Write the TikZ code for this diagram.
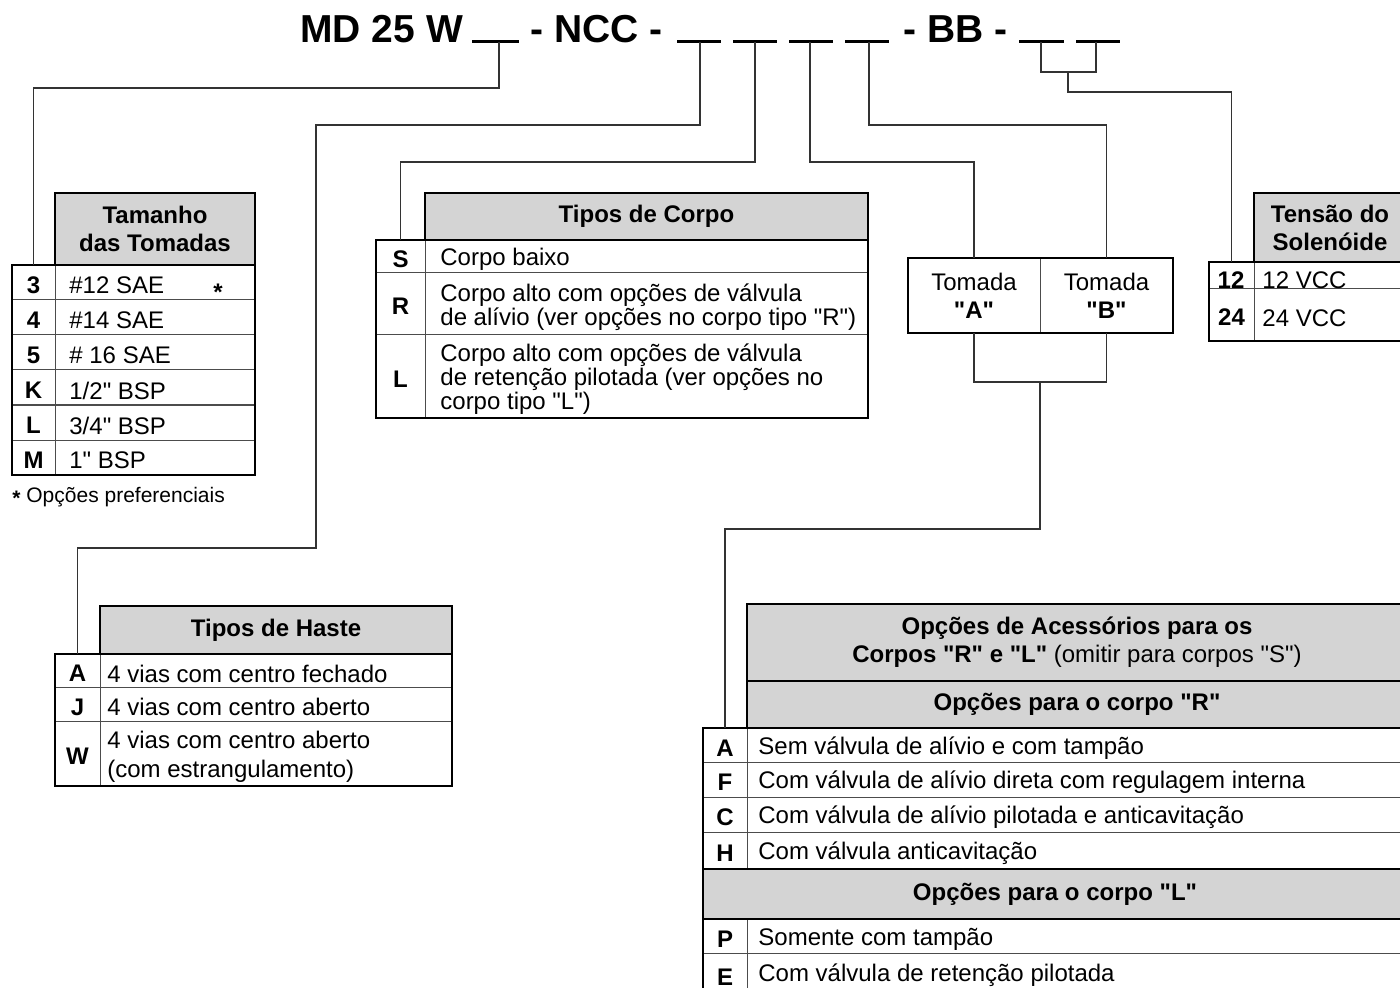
\documentclass[tikz,border=0pt]{standalone}
\usepackage{fontspec}
\setmainfont{Liberation Sans}[Ligatures=TeXOff]
\usetikzlibrary{positioning}

\newcommand{\cellfont}{\fontsize{12}{12}\selectfont}
\newcommand{\headfont}{\fontsize{12}{14}\selectfont\bfseries}

\begin{document}
\begin{tikzpicture}[
  x=0.5pt, y=-0.5pt,
  sz/.style 2 args={minimum width=#1pt,minimum height=#2pt},
  cell/.style={draw=black!70,line width=0.5pt,anchor=north west,
    inner sep=0pt,outer sep=0pt,font=\cellfont\bfseries},
  key/.style={cell,text height=11pt,text depth=0pt},
  hdr/.style={cell,fill=black!17,font=\headfont,align=center},
  txt/.style={inner sep=0pt,font=\cellfont,align=left,yshift=-1.5pt},
  frame/.style={draw=black,line width=1.3pt},
  conn/.style={draw=black!80,line width=0.7pt},
  blank/.style={draw=black,line width=1.5pt},
  title/.style={anchor=base west,inner sep=0pt,
    font=\fontsize{19.5}{22}\selectfont\bfseries}
]
  \useasboundingbox (0,0) rectangle (1400,988);
  \clip (0,0) rectangle (1400,988);

  % model code
  \node[title] (md) at (300,43) {MD 25 W};
  \node[title] (ncc) at (530,43) {- NCC -};
  \node[title] (bb) at (903,43) {- BB -};
  \draw[blank] (472,42) -- (519,42);
  \draw[blank] (677,42) -- (721,42);
  \draw[blank] (733,42) -- (777,42);
  \draw[blank] (789,42) -- (833,42);
  \draw[blank] (845,42) -- (889,42);
  \draw[blank] (1019,42) -- (1064,42);
  \draw[blank] (1076,42) -- (1120,42);
  \coordinate (u1) at (499,42);
  \coordinate (u2) at (700,42);
  \coordinate (u3) at (755,42);
  \coordinate (u4) at (810,42);
  \coordinate (u5) at (869,42);
  \coordinate (u6) at (1041,42);
  \coordinate (u7) at (1096,42);
  \coordinate (vbr) at (1068,72);
  \coordinate (tjoin) at (1040,382);

  % Tamanho das Tomadas
  \node[hdr,sz={100}{36}] (tam) at (55,193) {Tamanho\\das Tomadas};
  \node[key,sz={21.5}{17.5}] (tk3) at (12,265) {3};
  \node[cell,sz={100}{17.5}] (td3) at (55,265) {};
  \node[key,sz={21.5}{17.5}] (tk4) at (12,300) {4};
  \node[cell,sz={100}{17.5}] (td4) at (55,300) {};
  \node[key,sz={21.5}{17.5}] (tk5) at (12,335) {5};
  \node[cell,sz={100}{17.5}] (td5) at (55,335) {};
  \node[key,sz={21.5}{17.5}] (tkK) at (12,370) {K};
  \node[cell,sz={100}{17.5}] (tdK) at (55,370) {};
  \node[key,sz={21.5}{17.5}] (tkL) at (12,405) {L};
  \node[cell,sz={100}{17.5}] (tdL) at (55,405) {};
  \node[key,sz={21.5}{17.5}] (tkM) at (12,440) {M};
  \node[cell,sz={100}{17.5}] (tdM) at (55,440) {};
  \node[txt,right=7pt of td3.west] (tx3) {\#12 SAE};
  \node[txt,right=7pt of td4.west] (tx4) {\#14 SAE};
  \node[txt,right=7pt of td5.west] (tx5) {\# 16 SAE};
  \node[txt,right=7pt of tdK.west] (txK) {1/2" BSP};
  \node[txt,right=7pt of tdL.west] (txL) {3/4" BSP};
  \node[txt,right=7pt of tdM.west] (txM) {1" BSP};
  \node[txt,font=\cellfont\bfseries] (pstar) at (218,289) {*};
  \draw[frame] (tam.north west) rectangle (tam.south east);
  \draw[frame] (tk3.north west) rectangle (tdM.south east);
  \node[txt,anchor=west,font=\fontsize{10.5}{12}\selectfont] (pref) at (12,494)
    {\raisebox{-0.3ex}{\textbf{*}} Opções preferenciais};

  % Tipos de Corpo
  \node[hdr,sz={221.5}{23.5}] (cor) at (425,193) {Tipos de Corpo};
  \node[key,sz={24.5}{16.5}] (ckS) at (376,240) {S};
  \node[cell,sz={221.5}{16.5}] (cdS) at (425,240) {};
  \node[key,sz={24.5}{31}] (ckR) at (376,273) {R};
  \node[cell,sz={221.5}{31}] (cdR) at (425,273) {};
  \node[key,sz={24.5}{41.5}] (ckL) at (376,335) {L};
  \node[cell,sz={221.5}{41.5}] (cdL) at (425,335) {};
  \node[txt,right=7.5pt of cdS.west] (cxS) {Corpo baixo};
  \node[txt,right=7.5pt of cdR.west] (cxR)
    {Corpo alto com opções de válvula\\de alívio (ver opções no corpo tipo "R")};
  \node[txt,right=7.5pt of cdL.west] (cxL)
    {Corpo alto com opções de válvula\\de retenção pilotada (ver opções no\\corpo tipo "L")};
  \draw[frame] (cor.north west) rectangle (cor.south east);
  \draw[frame] (ckS.north west) rectangle (cdL.south east);

  % Tipos de Haste
  \node[hdr,sz={176}{24}] (has) at (100,606) {Tipos de Haste};
  \node[key,sz={22.5}{16.5}] (hkA) at (55,654) {A};
  \node[cell,sz={176}{16.5}] (hdA) at (100,654) {};
  \node[key,sz={22.5}{17}] (hkJ) at (55,687) {J};
  \node[cell,sz={176}{17}] (hdJ) at (100,687) {};
  \node[key,sz={22.5}{32.5}] (hkW) at (55,721) {W};
  \node[cell,sz={176}{32.5}] (hdW) at (100,721) {};
  \node[txt,right=3.5pt of hdA.west] (hxA) {4 vias com centro fechado};
  \node[txt,right=3.5pt of hdJ.west] (hxJ) {4 vias com centro aberto};
  \node[txt,right=3.5pt of hdW.west,font=\fontsize{12}{14.5}\selectfont] (hxW)
    {4 vias com centro aberto\\(com estrangulamento)};
  \draw[frame] (has.north west) rectangle (has.south east);
  \draw[frame] (hkA.north west) rectangle (hdW.south east);

  % Tomadas A e B
  \node[cell,sz={66}{37.5},font=\fontsize{12}{14}\selectfont,align=center] (tomA)
    at (908,258) {Tomada\\\textbf{"A"}};
  \node[cell,sz={66.5}{37.5},font=\fontsize{12}{14}\selectfont,align=center] (tomB)
    at (1040,258) {Tomada\\\textbf{"B"}};
  \draw[frame] (tomA.north west) rectangle (tomB.south east);

  % Tensao do Solenoide
  \node[hdr,sz={76}{34.5}] (ten) at (1254,193) {Tensão do\\Solenóide};
  \node[cell,sz={22.5}{13.5}] (vk12) at (1209,262) {};
  \node[cell,sz={76}{13.5}] (vd12) at (1254,262) {};
  \node[key,sz={22.5}{26}] (vk24) at (1209,289) {24};
  \node[cell,sz={76}{26}] (vd24) at (1254,289) {};
  \node[txt,font=\cellfont\bfseries] (vx12k) at (1231,277) {12};
  \node[txt,anchor=west] (vx12) at (1262,277) {12 VCC};
  \node[txt,right=4pt of vd24.west] (vx24) {24 VCC};
  \draw[frame] (ten.north west) rectangle (ten.south east);
  \draw[frame] (vk12.north west) rectangle (vd24.south east);

  % Opcoes de Acessorios
  \node[hdr,sz={330}{38.5}] (acc) at (747,604)
    {Opções de Acessórios para os\\Corpos "R" e "L" \textmd{(omitir para corpos "S")}};
  \node[hdr,sz={330}{23.5}] (accR) at (747,681) {Opções para o corpo "R"};
  \node[key,sz={22}{17}] (akA) at (703,728) {A};
  \node[cell,sz={330}{17}] (adA) at (747,728) {};
  \node[key,sz={22}{17.5}] (akF) at (703,762) {F};
  \node[cell,sz={330}{17.5}] (adF) at (747,762) {};
  \node[key,sz={22}{17.5}] (akC) at (703,797) {C};
  \node[cell,sz={330}{17.5}] (adC) at (747,797) {};
  \node[key,sz={22}{18.5}] (akH) at (703,832) {H};
  \node[cell,sz={330}{18.5}] (adH) at (747,832) {};
  \node[hdr,sz={352}{25}] (accL) at (703,869) {Opções para o corpo "L"};
  \node[key,sz={22}{17}] (akP) at (703,919) {P};
  \node[cell,sz={330}{17}] (adP) at (747,919) {};
  \node[key,sz={22}{21}] (akE) at (703,953) {E};
  \node[cell,sz={330}{21}] (adE) at (747,953) {};
  \node[txt,right=5.5pt of adA.west] (axA) {Sem válvula de alívio e com tampão};
  \node[txt,right=5.5pt of adF.west] (axF) {Com válvula de alívio direta com regulagem interna};
  \node[txt,right=5.5pt of adC.west] (axC) {Com válvula de alívio pilotada e anticavitação};
  \node[txt,right=5.5pt of adH.west] (axH) {Com válvula anticavitação};
  \node[txt,right=5.5pt of adP.west] (axP) {Somente com tampão};
  \node[txt,right=5.5pt of adE.west,yshift=1pt] (axE) {Com válvula de retenção pilotada};
  \draw[frame] (acc.north west) rectangle (accR.south east);
  \draw[draw=black,line width=0.9pt] (accR.north west) -- (accR.north east);
  \draw[frame] (akA.north west) rectangle (adH.south east);
  \draw[frame] (accL.north west) rectangle (accL.south east);
  \draw[frame] (akP.north west) rectangle (adE.south east);

  % connectors
  \draw[conn] (u1) -- (499,88) -| (tk3.north);
  \draw[conn] (u2) -- (700,125) -| (316,548) -| (hkA.north);
  \draw[conn] (u3) -- (755,162) -| (ckS.north);
  \draw[conn] (u4) -- (810,162) -| (tomA.north);
  \draw[conn] (u5) -- (869,125) -| (tomB.north);
  \draw[conn] (u6) |- (1096,72) -- (u7);
  \draw[conn] (vbr) -- (1068,92) -| (vk12.north);
  \draw[conn] (tomA.south) |- (tjoin) -| (tomB.south);
  \draw[conn] (tjoin) -- (1040,529) -| (akA.north);
\end{tikzpicture}
\end{document}
